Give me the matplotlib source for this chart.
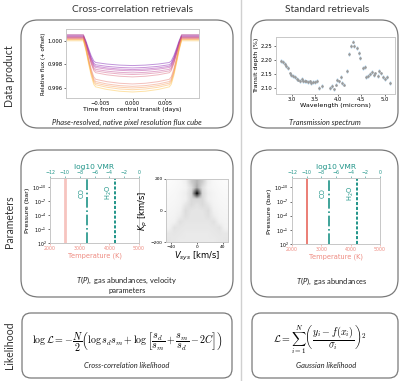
import matplotlib
matplotlib.use('Agg')
import matplotlib.pyplot as plt
from matplotlib.patches import FancyBboxPatch
import numpy as np

plt.rcParams['font.family'] = ['DejaVu Sans']
plt.rcParams['mathtext.fontset'] = 'custom'
plt.rcParams['mathtext.rm'] = 'Lato'
plt.rcParams['mathtext.it'] = 'Lato:italic'
plt.rcParams['mathtext.bf'] = 'Lato:bold'

# light curves: shared transit profile, per-curve out-of-transit level and mid-transit flux
lc_time = [-0.0105, -0.0076, -0.0072, -0.0068, -0.0064, -0.0060, -0.0057, -0.004, -0.002, 0.0,
           0.002, 0.004, 0.0057, 0.0060, 0.0064, 0.0068, 0.0072, 0.0076, 0.0105]
lc_shape = [0, 0, 0.2, 0.45, 0.68, 0.85, 0.9, 0.95, 0.985, 1.0,
            0.985, 0.95, 0.9, 0.85, 0.68, 0.45, 0.2, 0, 0]
lc_base = [1.0005, 1.0004, 1.0004, 1.0003, 1.0003, 1.0002, 1.0005, 1.0003, 1.0002, 1.0001, 1.0001, 1.0000]
lc_mid = [0.9979, 0.9977, 0.99756, 0.99745, 0.99728, 0.99714, 0.99694, 0.99634, 0.99614, 0.9960, 0.99585, 0.99566]

# transmission spectrum
wl = [2.77, 2.80, 2.84, 2.875, 2.91, 2.95, 2.985, 3.02, 3.06, 3.10, 3.13, 3.17, 3.21, 3.24, 3.28,
      3.31, 3.35, 3.39, 3.42, 3.46, 3.50, 3.53, 3.58, 3.64, 3.82, 3.86, 3.90, 3.94, 3.98, 4.01,
      4.05, 4.09, 4.13, 4.19, 4.23, 4.28, 4.31, 4.35, 4.40, 4.44, 4.48, 4.53, 4.57, 4.61, 4.64,
      4.69, 4.73, 4.77, 4.80, 4.85, 4.89, 4.93, 4.97, 5.01, 5.05, 5.11]
depth = [2.198, 2.194, 2.188, 2.180, 2.171, 2.152, 2.148, 2.143, 2.138, 2.132, 2.130, 2.126, 2.131,
         2.126, 2.124, 2.123, 2.120, 2.123, 2.119, 2.121, 2.120, 2.124, 2.100, 2.107, 2.100, 2.106,
         2.094, 2.112, 2.129, 2.123, 2.138, 2.117, 2.112, 2.162, 2.224, 2.251, 2.268, 2.251, 2.243,
         2.227, 2.209, 2.171, 2.176, 2.138, 2.144, 2.150, 2.156, 2.148, 2.152, 2.144, 2.162, 2.152,
         2.138, 2.132, 2.140, 2.117]
depth_err = [0.007] * len(wl)

# T(P) and abundances
tp_temp = 2500
vmr_co = -7.0
vmr_h2o = -3.2

# Kp-Vsys map (rows: Kp 200 -> -200, cols: Vsys -48 -> 48), 0 = white, 1 = black
kp_vsys = [
    [0.03, 0.04, 0.06, 0.12, 0.30, 0.40, 0.30, 0.12, 0.06, 0.04, 0.03],
    [0.04, 0.05, 0.07, 0.10, 0.22, 0.45, 0.22, 0.10, 0.07, 0.05, 0.04],
    [0.05, 0.06, 0.09, 0.13, 0.25, 1.00, 0.25, 0.13, 0.09, 0.06, 0.05],
    [0.06, 0.07, 0.09, 0.12, 0.24, 0.26, 0.24, 0.12, 0.09, 0.07, 0.06],
    [0.07, 0.08, 0.10, 0.18, 0.24, 0.20, 0.24, 0.18, 0.10, 0.08, 0.07],
    [0.08, 0.09, 0.12, 0.23, 0.19, 0.18, 0.19, 0.23, 0.12, 0.09, 0.08],
    [0.09, 0.10, 0.15, 0.22, 0.18, 0.18, 0.18, 0.22, 0.15, 0.10, 0.09],
    [0.10, 0.12, 0.21, 0.18, 0.18, 0.18, 0.18, 0.18, 0.21, 0.12, 0.10],
    [0.11, 0.20, 0.18, 0.17, 0.17, 0.17, 0.17, 0.17, 0.18, 0.20, 0.11],
    [0.17, 0.18, 0.17, 0.16, 0.16, 0.16, 0.16, 0.16, 0.17, 0.18, 0.17],
    [0.18, 0.17, 0.16, 0.16, 0.16, 0.16, 0.16, 0.16, 0.16, 0.17, 0.18],
]

W, H = 400, 381
teal = '#1f9488'
salmon = '#ee8a80'
boxcol = '#7a7a7a'


def px_axes(fig, x0, y0, x1, y1):
    return fig.add_axes([x0 / W, 1 - y1 / H, (x1 - x0) / W, (y1 - y0) / H])


def style_inset(ax, size=3.8):
    ax.tick_params(labelsize=size, length=1.5, width=0.4, pad=1)
    for s in ax.spines.values():
        s.set_color('#c8c8c8')
        s.set_linewidth(0.7)


fig = plt.figure(figsize=(W / 100, H / 100), dpi=100)

# layout layer in pixel coordinates
ax0 = fig.add_axes([0, 0, 1, 1])
ax0.set_xlim(0, W)
ax0.set_ylim(H, 0)
ax0.axis('off')

ax0.plot([241, 241], [0, H], color='#d0d0d0', lw=1)
ax0.text(132, 10, 'Cross-correlation retrievals', ha='center', va='center', fontsize=7.3, color='#333333', family='Lato')
ax0.text(327, 10, 'Standard retrievals', ha='center', va='center', fontsize=7.3, color='#333333', family='Lato')
for yc, lab in [(76, 'Data product'), (222, 'Parameters'), (345, 'Likelihood')]:
    ax0.text(10, yc, lab, rotation=90, ha='center', va='center', fontsize=7.6, color='#333333', family='Lato')

boxes = [(21, 20, 233, 128, 17), (251, 20, 398, 128, 17),
         (21, 150, 233, 297, 18), (251, 150, 398, 297, 18),
         (22, 313, 232, 378, 9), (252, 313, 398, 378, 9)]
for x0, y0, x1, y1, r in boxes:
    ax0.add_patch(FancyBboxPatch((x0, y0), x1 - x0, y1 - y0,
                                 boxstyle='round,pad=0,rounding_size=%d' % r,
                                 fc='none', ec=boxcol, lw=0.9))

cap = dict(ha='center', va='center', fontsize=5.4, color='#222222', family='Lato')
ax0.text(127, 122, 'Phase-resolved, native pixel resolution flux cube', style='italic', **cap)
ax0.text(325, 122, 'Transmission spectrum', style='italic', **cap)
ax0.text(127, 280, '$T(P)$,  gas abundances, velocity', **cap)
ax0.text(127, 291, 'parameters', **cap)
ax0.text(332, 281, '$T(P)$,  gas abundances', **cap)
ax0.text(127, 366, 'Cross-correlation likelihood', style='italic', **cap)
ax0.text(326, 366, 'Gaussian likelihood', style='italic', **cap)

ax0.text(127, 342, r'$\log\mathcal{L} = -\dfrac{N}{2}\left(\log s_d s_m + \log\left[\dfrac{s_d}{s_m} + \dfrac{s_m}{s_d} - 2C\right]\right)$',
         ha='center', va='center', fontsize=7.2, math_fontfamily='cm')
ax0.text(320, 340, r'$\mathcal{L} = \sum_{i=1}^{N}\left(\dfrac{y_i - f(x_i)}{\sigma_i}\right)^2$',
         ha='center', va='center', fontsize=7.2, math_fontfamily='cm')

# light curves
ax = px_axes(fig, 66, 29, 199, 98)
cols = plt.cm.plasma(np.linspace(0.2, 0.85, len(lc_base)))
t = np.array(lc_time)
shp = np.array(lc_shape)
for b, m, c in zip(lc_base, lc_mid, cols):
    ax.plot(t, b - (b - m) * shp, color=c, alpha=0.42, lw=0.7)
ax.set_xlim(-0.0103, 0.0103)
ax.set_ylim(0.99515, 1.001)
ax.set_xticks([-0.005, 0, 0.005])
ax.set_xticklabels(['\u22120.005', '0.000', '0.005'])
ax.set_yticks([0.996, 0.998, 1.0])
ax.set_yticklabels(['0.996', '0.998', '1.000'])
ax.set_xlabel('Time from central transit (days)', fontsize=4.4, labelpad=0.5)
ax.set_ylabel('Relative flux (+ offset)', fontsize=4.0, labelpad=1)
style_inset(ax)

# transmission spectrum
ax = px_axes(fig, 276, 37, 395, 94)
ax.errorbar(wl, depth, yerr=depth_err, fmt='o', ms=0.9, color='#9a9a9a', ecolor='#a8d2f0', elinewidth=0.9, capsize=0)
ax.set_xticks([3.0, 3.5, 4.0, 4.5, 5.0])
ax.set_yticks([2.10, 2.15, 2.20, 2.25])
ax.set_xlabel('Wavelength (microns)', fontsize=4.6, labelpad=0.5)
ax.set_ylabel('Transit depth (%)', fontsize=4.6, labelpad=1)
style_inset(ax)


def tp_panel(x0, y0, x1, y1, tcol, tlw, talpha):
    ax = px_axes(fig, x0, y0, x1, y1)
    ax.axvline(tp_temp, color=tcol, lw=tlw, alpha=talpha)
    ax.set_xlim(2000, 5000)
    ax.set_yscale('log')
    ax.set_ylim(1e2, 1e-12)
    ax.set_yticks([1e-10, 1e-7, 1e-4, 1e-1, 1e2])
    ax.minorticks_off()
    ax.set_xticks([2000, 3000, 4000, 5000])
    ax.set_xlabel('Temperature (K)', fontsize=4.8, color=salmon, labelpad=0.5)
    ax.set_ylabel('Pressure (bar)', fontsize=4.6, labelpad=1)
    style_inset(ax, 3.4)
    ax.tick_params(axis='x', colors=salmon)
    ax2 = ax.twiny()
    ax2.set_xlim(-12, 0)
    ax2.set_xticks([-12, -10, -8, -6, -4, -2, 0])
    ax2.axvline(vmr_co, color=teal, ls='-.', lw=1.2)
    ax2.axvline(vmr_h2o, color=teal, ls=(0, (1.6, 0.9)), lw=1.4)
    ax2.text(vmr_co - 0.8, 1.5e-9, 'CO', rotation=90, ha='center', va='center', fontsize=4.8, color=teal)
    ax2.text(vmr_h2o - 0.8, 1.5e-9, 'H$_2$O', rotation=90, ha='center', va='center', fontsize=4.8, color=teal,
             math_fontfamily='dejavusans')
    ax2.set_xlabel('log10 VMR', fontsize=5.4, color=teal, labelpad=0.5)
    style_inset(ax2, 3.4)
    ax2.tick_params(axis='x', colors=teal)


tp_panel(50, 178, 139, 243, salmon, 2.0, 0.5)
tp_panel(292, 178, 380, 244, '#e8685e', 1.2, 1.0)

# Kp-Vsys map
ax = px_axes(fig, 166, 179, 228, 242)
ax.imshow(np.array(kp_vsys), cmap='Greys', vmin=0, vmax=1, extent=[-48, 48, -200, 200],
          aspect='auto', interpolation='bilinear')
ax.set_xticks([-40, 0, 40])
ax.set_yticks([-200, 0, 200])
ax.set_xlabel('$V_{sys}$ [km/s]', fontsize=6, labelpad=0.5, math_fontfamily='dejavusans')
ax.set_ylabel('$K_p$ [km/s]', fontsize=6, labelpad=0.5, math_fontfamily='dejavusans')
style_inset(ax, 3.2)

fig.savefig('out.png', dpi=100)
